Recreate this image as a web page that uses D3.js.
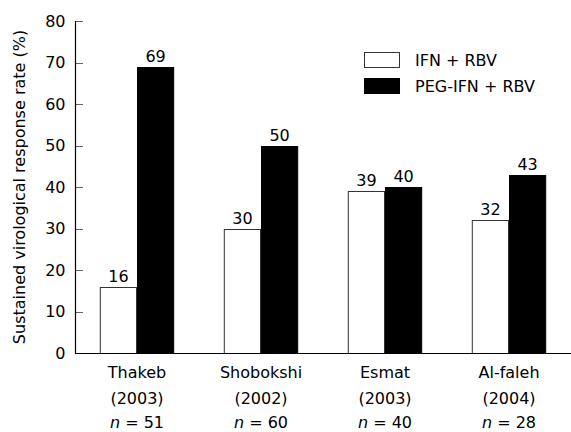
<!DOCTYPE html>
<html>
<head>
<meta charset="utf-8">
<script src="https://cdn.jsdelivr.net/npm/d3@7/dist/d3.min.js"></script>
<style>
  html, body { margin: 0; padding: 0; background: #fff; }
  svg { display: block; }
  text { font-family: "DejaVu Sans", Verdana, sans-serif; fill: #000; }
</style>
</head>
<body>
<svg id="chart" width="571" height="432"></svg>
<script>
// ---- data ----
const studies = ["Thakeb", "Shobokshi", "Esmat", "Al-faleh"];
const years = ["(2003)", "(2002)", "(2003)", "(2004)"];
const sampleSizes = ["51", "60", "40", "28"];
const seriesNames = ["IFN + RBV", "PEG-IFN + RBV"];
const ifnRbv = [16, 30, 39, 32];
const pegIfnRbv = [69, 50, 40, 43];
const yTicks = [0, 10, 20, 30, 40, 50, 60, 70, 80];
const yTitle = "Sustained virological response rate (%)";

const seriesColors = ["#ffffff", "#000000"];
const seriesStrokes = ["#333333", "#000000"];

const svg = d3.select("#chart");
const width = 571, height = 432;
const margin = { left: 75, right: 0, top: 21, bottom: 79 };
const plotBottom = height - margin.bottom; // 353

const x = d3.scaleBand()
  .domain(studies)
  .range([margin.left, width - margin.right])
  .paddingInner(0.4)
  .paddingOuter(0.2);

const xInner = d3.scaleBand()
  .domain([0, 1])
  .range([0, x.bandwidth()])
  .padding(0);

const y = d3.scaleLinear()
  .domain([0, 80])
  .range([plotBottom, margin.top]);

const data = studies.map((s, i) => ({
  study: s,
  values: [ifnRbv[i], pegIfnRbv[i]]
}));

// bars
const groups = svg.append("g").selectAll("g")
  .data(data)
  .join("g")
  .attr("transform", d => `translate(${x(d.study)},0)`);

groups.selectAll("rect")
  .data(d => d.values.map((v, k) => ({ v, k })))
  .join("rect")
  .attr("x", d => xInner(d.k) + 0.5)
  .attr("y", d => Math.round(y(d.v)) + 0.5)
  .attr("width", xInner.bandwidth() - 1)
  .attr("height", d => plotBottom - Math.round(y(d.v)))
  .attr("fill", d => seriesColors[d.k])
  .attr("stroke", d => seriesStrokes[d.k])
  .attr("stroke-width", 1);

groups.selectAll("text.val")
  .data(d => d.values.map((v, k) => ({ v, k })))
  .join("text")
  .attr("class", "val")
  .attr("x", d => xInner(d.k) + xInner.bandwidth() / 2)
  .attr("y", d => y(d.v) - 5)
  .attr("text-anchor", "middle")
  .attr("font-size", 16)
  .text(d => d.v);

// y axis
const yAxis = d3.axisLeft(y)
  .tickValues(yTicks)
  .tickSize(0)
  .tickPadding(10);
const yg = svg.append("g")
  .attr("transform", `translate(${margin.left + 0.5},0)`)
  .call(yAxis);
yg.select(".domain").remove();
yg.selectAll("text").attr("font-size", 16).style("font-family", '"DejaVu Sans", Verdana, sans-serif').attr("fill", "#000");

// inner ticks
svg.append("g").selectAll("line")
  .data(yTicks)
  .join("line")
  .attr("x1", margin.left)
  .attr("x2", margin.left + 8)
  .attr("y1", d => Math.round(y(d)) + 0.5)
  .attr("y2", d => Math.round(y(d)) + 0.5)
  .attr("stroke", "#666")
  .attr("stroke-width", 1);

// axis lines
svg.append("line")
  .attr("x1", margin.left + 0.5).attr("x2", margin.left + 0.5)
  .attr("y1", y(80)).attr("y2", plotBottom + 0.5)
  .attr("stroke", "#000").attr("stroke-width", 1.2);
svg.append("line")
  .attr("x1", margin.left).attr("x2", width)
  .attr("y1", plotBottom + 0.5).attr("y2", plotBottom + 0.5)
  .attr("stroke", "#000").attr("stroke-width", 1.2);

// x category labels
const xl = svg.append("g").selectAll("text")
  .data(studies.map((s, i) => ({ s, yr: years[i], n: sampleSizes[i] })))
  .join("text")
  .attr("text-anchor", "middle")
  .attr("font-size", 16);
xl.append("tspan")
  .attr("x", d => x(d.s) + x.bandwidth() / 2)
  .attr("y", 378)
  .text(d => d.s);
xl.append("tspan")
  .attr("x", d => x(d.s) + x.bandwidth() / 2)
  .attr("y", 404)
  .text(d => d.yr);
const nLine = xl.append("tspan")
  .attr("x", d => x(d.s) + x.bandwidth() / 2)
  .attr("y", 428);
nLine.append("tspan").attr("font-style", "italic").text("n");
nLine.append("tspan").text(d => " = " + d.n);

// y title
svg.append("text")
  .attr("transform", `translate(25,${(y(80) + plotBottom) / 2}) rotate(-90)`)
  .attr("text-anchor", "middle")
  .attr("font-size", 16)
  .text(yTitle);

// legend
const legend = svg.append("g").selectAll("g")
  .data(seriesNames)
  .join("g")
  .attr("transform", (d, i) => `translate(364,${52 + i * 26})`);
legend.append("rect")
  .attr("x", 0.5).attr("y", 0.5)
  .attr("width", 35).attr("height", 15)
  .attr("fill", (d, i) => seriesColors[i])
  .attr("stroke", (d, i) => seriesStrokes[i]);
legend.append("text")
  .attr("x", 51)
  .attr("y", 13.5)
  .attr("font-size", 16)
  .text(d => d);
</script>
</body>
</html>
